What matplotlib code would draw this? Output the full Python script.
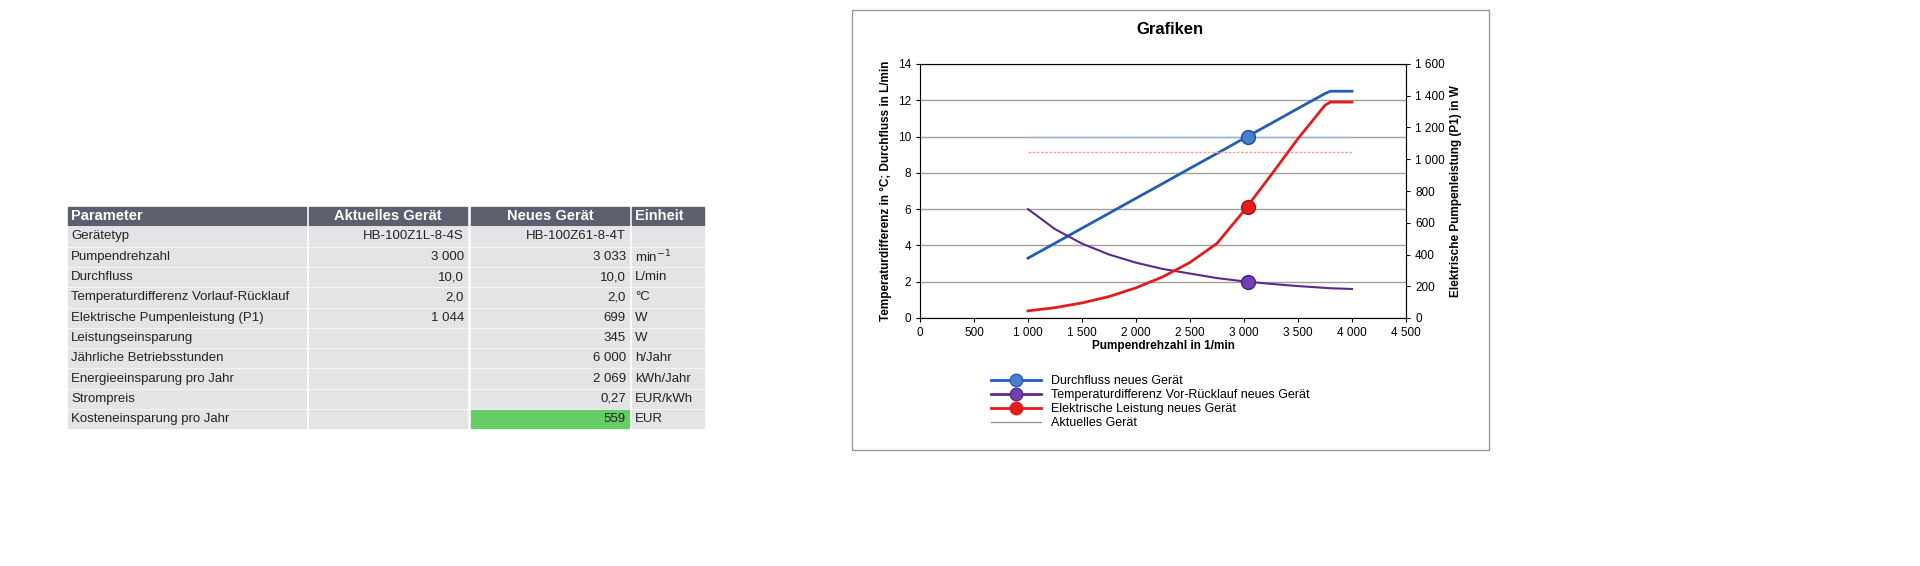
import matplotlib
matplotlib.use("Agg")
import matplotlib.pyplot as plt
from matplotlib.patches import Rectangle
from matplotlib.lines import Line2D

plt.rcParams['font.family'] = ['Liberation Sans', 'DejaVu Sans']

# ---- table data ----
headers = ["Parameter", "Aktuelles Gerät", "Neues Gerät", "Einheit"]
params = ["Gerätetyp", "Pumpendrehzahl", "Durchfluss", "Temperaturdifferenz Vorlauf-Rücklauf",
          "Elektrische Pumpenleistung (P1)", "Leistungseinsparung", "Jährliche Betriebsstunden",
          "Energieeinsparung pro Jahr", "Strompreis", "Kosteneinsparung pro Jahr"]
current = ["HB-100Z1L-8-4S", "3 000", "10,0", "2,0", "1 044", "", "", "", "", ""]
new = ["HB-100Z61-8-4T", "3 033", "10,0", "2,0", "699", "345", "6 000", "2 069", "0,27", "559"]
units = ["", "min$^{-1}$", "L/min", "°C", "W", "W", "h/Jahr", "kWh/Jahr", "EUR/kWh", "EUR"]

# ---- chart data ----
rpm =   [1000, 1250, 1500, 1750, 2000, 2250, 2500, 2750, 3000, 3250, 3500, 3750, 3800, 4000]
flow =  [3.3, 4.12, 4.95, 5.77, 6.6, 7.42, 8.25, 9.07, 9.9, 10.72, 11.55, 12.37, 12.5, 12.5]
temp =  [6.0, 4.9, 4.1, 3.5, 3.05, 2.7, 2.45, 2.2, 2.02, 1.88, 1.76, 1.66, 1.64, 1.6]
power = [45, 65, 95, 135, 190, 260, 350, 470, 675, 900, 1130, 1340, 1360, 1360]
op_rpm = 3033
op_flow = 10.0
op_temp = 2.0
op_power = 699
cur_flow = 10.0
cur_power = 1044
ref_rpm = [1000, 4000]

W, H = 1920, 566
fig = plt.figure(figsize=(19.2, 5.66), dpi=100)
bg = fig.add_axes([0, 0, 1, 1])
bg.set_xlim(0, W); bg.set_ylim(H, 0); bg.axis('off')

cols = [(68, 306), (309, 467), (471, 629), (632, 704)]
hy0, rh = 207, 20.3
for (x0, x1), h in zip(cols, headers):
    bg.add_patch(Rectangle((x0, hy0), x1 - x0, rh - 2, color='#5b5f6e'))
    if h in ("Parameter", "Einheit"):
        bg.text(x0 + 3, hy0 + rh / 2 - 1, h, color='white', fontsize=10.5, weight='bold', va='center')
    else:
        bg.text((x0 + x1) / 2, hy0 + rh / 2 - 1, h, color='white', fontsize=10.5, weight='bold', va='center', ha='center')
for i in range(len(params)):
    y = hy0 + rh * (i + 1)
    for j, (x0, x1) in enumerate(cols):
        c = '#e4e4e6'
        if j == 2 and i == len(params) - 1:
            c = '#66cc66'
        bg.add_patch(Rectangle((x0, y), x1 - x0, rh - 2, color=c))
    yc = y + rh / 2 - 1
    bg.text(cols[0][0] + 3, yc, params[i], fontsize=9.5, va='center', color='#222')
    bg.text(cols[1][1] - 3, yc, current[i], fontsize=9.5, va='center', ha='right', color='#222')
    bg.text(cols[2][1] - 3, yc, new[i], fontsize=9.5, va='center', ha='right', color='#222')
    bg.text(cols[3][0] + 3, yc, units[i], fontsize=9.5, va='center', color='#222')

# chart frame
bg.add_patch(Rectangle((852, 10), 637, 440, fill=False, ec='#999999', lw=1))
bg.text(1170, 30, "Grafiken", fontsize=12, weight='bold', ha='center', va='center')

ax = fig.add_axes([920 / W, 1 - 318 / H, (1406 - 920) / W, (318 - 64) / H])
ax.set_xlim(0, 4500); ax.set_ylim(0, 14)
ax.set_xticks(range(0, 4501, 500))
ax.set_xticklabels([f"{v:,}".replace(",", " ") for v in range(0, 4501, 500)], fontsize=8.5)
ax.set_yticks(range(0, 15, 2))
ax.tick_params(labelsize=8.5, length=3)
ax.grid(axis='y', color='#a0a0a0', lw=1)
ax.set_axisbelow(True)
for s in ax.spines.values():
    s.set_color('#888888')
ax.set_xlabel("Pumpendrehzahl in 1/min", fontsize=8.5, weight='bold', labelpad=1)
ax.set_ylabel("Temperaturdifferenz in °C; Durchfluss in L/min", fontsize=8.5, weight='bold')
ax2 = ax.twinx()
ax2.set_ylim(0, 1600)
ax2.set_yticks(range(0, 1601, 200))
ax2.set_yticklabels([f"{v:,}".replace(",", " ") for v in range(0, 1601, 200)], fontsize=8.5)
ax2.tick_params(length=3)
ax2.set_ylabel("Elektrische Pumpenleistung (P1) in W", fontsize=8.5, weight='bold')

ax.plot(ref_rpm, [cur_flow] * 2, color='#8fb4e3', lw=1, ls=(0, (2, 1)))
ax2.plot(ref_rpm, [cur_power] * 2, color='#f2a0a0', lw=1, ls=(0, (2, 1)))
ax.plot(rpm, flow, color='#1f5fb4', lw=2)
ax.plot(rpm, temp, color='#5b2a8c', lw=1.5)
ax2.plot(rpm, power, color='#e51c1c', lw=2)
ax.plot(op_rpm, op_flow, 'o', ms=10, mfc='#4a7fd0', mec='#1f4f94')
ax.plot(op_rpm, op_temp, 'o', ms=10, mfc='#7040b0', mec='#4a2080')
ax2.plot(op_rpm, op_power, 'o', ms=10, mfc='#e51c1c', mec='#b01010')

handles = [Line2D([], [], color='#1f5fb4', lw=2, marker='o', ms=9, mfc='#4a7fd0'),
           Line2D([], [], color='#5b2a8c', lw=2, marker='o', ms=9, mfc='#7040b0'),
           Line2D([], [], color='#e51c1c', lw=2, marker='o', ms=9, mfc='#e51c1c'),
           Line2D([], [], color='#999999', lw=1)]
labels = ["Durchfluss neues Gerät", "Temperaturdifferenz Vor-Rücklauf neues Gerät",
          "Elektrische Leistung neues Gerät", "Aktuelles Gerät"]
fig.legend(handles, labels, loc='upper left', bbox_to_anchor=(980 / W, 1 - 364 / H),
           frameon=False, fontsize=9, labelspacing=0.15, handlelength=4)

fig.savefig("out.png", dpi=100)
